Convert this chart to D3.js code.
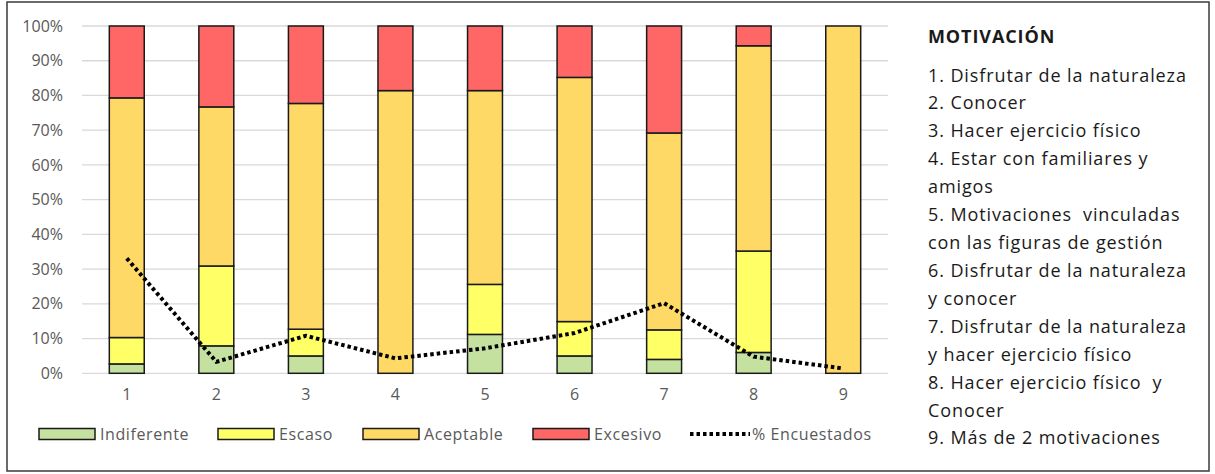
<!DOCTYPE html>
<html>
<head>
<meta charset="utf-8">
<script src="https://cdn.jsdelivr.net/npm/d3@7"></script>
<style>
  html, body { margin: 0; padding: 0; background: #fff; }
  svg { display: block; }
  text { font-family: "Open Sans", "Noto Sans", sans-serif; }
</style>
</head>
<body>
<svg id="chart" width="1215" height="474"></svg>
<script>
// Motivation categories (x axis)
const categories = ["1", "2", "3", "4", "5", "6", "7", "8", "9"];

// Share of each satisfaction level per motivation (%)
const indiferente = [2.7, 7.9, 5.0, 0, 11.2, 5.0, 4.0, 6.0, 0];
const escaso      = [7.6, 23.0, 7.7, 0, 14.4, 9.9, 8.5, 29.2, 0];
const aceptable   = [69.0, 45.8, 65.0, 81.4, 55.8, 70.3, 56.7, 59.1, 100];
const excesivo    = [20.7, 23.3, 22.3, 18.6, 18.6, 14.8, 30.8, 5.7, 0];

// Share of respondents choosing each motivation (%)
const encuestados = [33.1, 3.3, 10.8, 4.3, 7.2, 11.6, 20.2, 4.8, 1.4];

const yTicks = [0, 10, 20, 30, 40, 50, 60, 70, 80, 90, 100];

const seriesNames = ["Indiferente", "Escaso", "Aceptable", "Excesivo"];
const seriesColors = ["#C4E1A0", "#FFFF66", "#FFD966", "#FF6666"];
const lineName = "% Encuestados";

const motivaciones = [
  "1. Disfrutar de la naturaleza",
  "2. Conocer",
  "3. Hacer ejercicio físico",
  "4. Estar con familiares y",
  "amigos",
  "5. Motivaciones  vinculadas",
  "con las figuras de gestión",
  "6. Disfrutar de la naturaleza",
  "y conocer",
  "7. Disfrutar de la naturaleza",
  "y hacer ejercicio físico",
  "8. Hacer ejercicio físico  y",
  "Conocer",
  "9. Más de 2 motivaciones"
];

const svg = d3.select("#chart");

// Outer frame
svg.append("rect")
  .attr("x", 7).attr("y", 2)
  .attr("width", 1202).attr("height", 469)
  .attr("fill", "#fff").attr("stroke", "#3a3a3a").attr("stroke-width", 1.5);

const plot = { left: 82, right: 888, top: 26, bottom: 373.3 };

const x = d3.scaleBand().domain(categories)
  .range([plot.left, plot.right]).paddingInner(0.61).paddingOuter(0.305);
const y = d3.scaleLinear().domain([0, 100]).range([plot.bottom, plot.top]);

// Gridlines
svg.append("g").selectAll("line").data(yTicks).join("line")
  .attr("x1", plot.left).attr("x2", plot.right)
  .attr("y1", d => y(d)).attr("y2", d => y(d))
  .attr("stroke", "#d9d9d9").attr("stroke-width", 1.3);

// Y axis labels
const yAxis = d3.axisLeft(y).tickValues(yTicks).tickFormat(d => d + "%").tickSize(0).tickPadding(0);
const gy = svg.append("g").attr("transform", `translate(63,0)`).call(yAxis);
gy.select(".domain").remove();
gy.selectAll("text").attr("font-size", 16).attr("fill", "#595959")
  .style("font-family", '"Open Sans", sans-serif');

// X axis labels
const xAxis = d3.axisBottom(x).tickSize(0).tickPadding(0);
const gx = svg.append("g").attr("transform", `translate(0,${plot.bottom + 15})`).call(xAxis);
gx.select(".domain").remove();
gx.selectAll("text").attr("font-size", 16).attr("fill", "#595959")
  .style("font-family", '"Open Sans", sans-serif');

// Stacked bars
const rows = categories.map((c, i) => ({
  cat: c,
  Indiferente: indiferente[i],
  Escaso: escaso[i],
  Aceptable: aceptable[i],
  Excesivo: excesivo[i]
}));
const stack = d3.stack().keys(seriesNames)(rows);

svg.append("g").selectAll("g").data(stack).join("g")
  .attr("fill", (d, i) => seriesColors[i])
  .selectAll("rect").data(d => d.filter(s => s[1] - s[0] > 0)).join("rect")
  .attr("x", d => x(d.data.cat))
  .attr("width", x.bandwidth())
  .attr("y", d => y(d[1]))
  .attr("height", d => y(d[0]) - y(d[1]))
  .attr("stroke", "#1a1a1a").attr("stroke-width", 1.5);

// Respondents line
const line = d3.line()
  .x((d, i) => x(categories[i]) + x.bandwidth() / 2)
  .y(d => y(d));
svg.append("path").datum(encuestados)
  .attr("d", line)
  .attr("fill", "none").attr("stroke", "#000")
  .attr("stroke-width", 4).attr("stroke-dasharray", "3.5 3");

// Legend
const legendY = 434;
const legendItems = [
  { name: "Indiferente", color: seriesColors[0], x: 39 },
  { name: "Escaso", color: seriesColors[1], x: 218 },
  { name: "Aceptable", color: seriesColors[2], x: 363 },
  { name: "Excesivo", color: seriesColors[3], x: 533 }
];
const lg = svg.append("g");
legendItems.forEach(it => {
  lg.append("rect").attr("x", it.x).attr("y", legendY - 5.5)
    .attr("width", 56).attr("height", 11)
    .attr("fill", it.color).attr("stroke", "#1a1a1a").attr("stroke-width", 1.5);
  lg.append("text").attr("x", it.x + 61).attr("y", legendY + 5.5)
    .attr("font-size", 16).attr("letter-spacing", 0.6).attr("fill", "#595959").text(it.name);
});
lg.append("line").attr("x1", 690).attr("x2", 750)
  .attr("y1", legendY).attr("y2", legendY)
  .attr("stroke", "#000").attr("stroke-width", 4).attr("stroke-dasharray", "3.5 3");
lg.append("text").attr("x", 752).attr("y", legendY + 5.5)
  .attr("font-size", 16).attr("letter-spacing", 0.6).attr("fill", "#595959").text(lineName);

// Motivation key
const key = svg.append("g").attr("transform", "translate(928,0)");
key.append("text").attr("x", 0).attr("y", 43)
  .attr("font-size", 18).attr("letter-spacing", 0.9)
  .attr("font-weight", "bold").attr("fill", "#1a1a1a")
  .text("MOTIVACIÓN");
key.selectAll("text.item").data(motivaciones).join("text")
  .attr("class", "item")
  .attr("x", 0).attr("y", (d, i) => 81.5 + i * 27.92)
  .attr("font-size", 18).attr("letter-spacing", 0.9).attr("fill", "#1a1a1a")
  .style("white-space", "pre")
  .text(d => d);
</script>
</body>
</html>
